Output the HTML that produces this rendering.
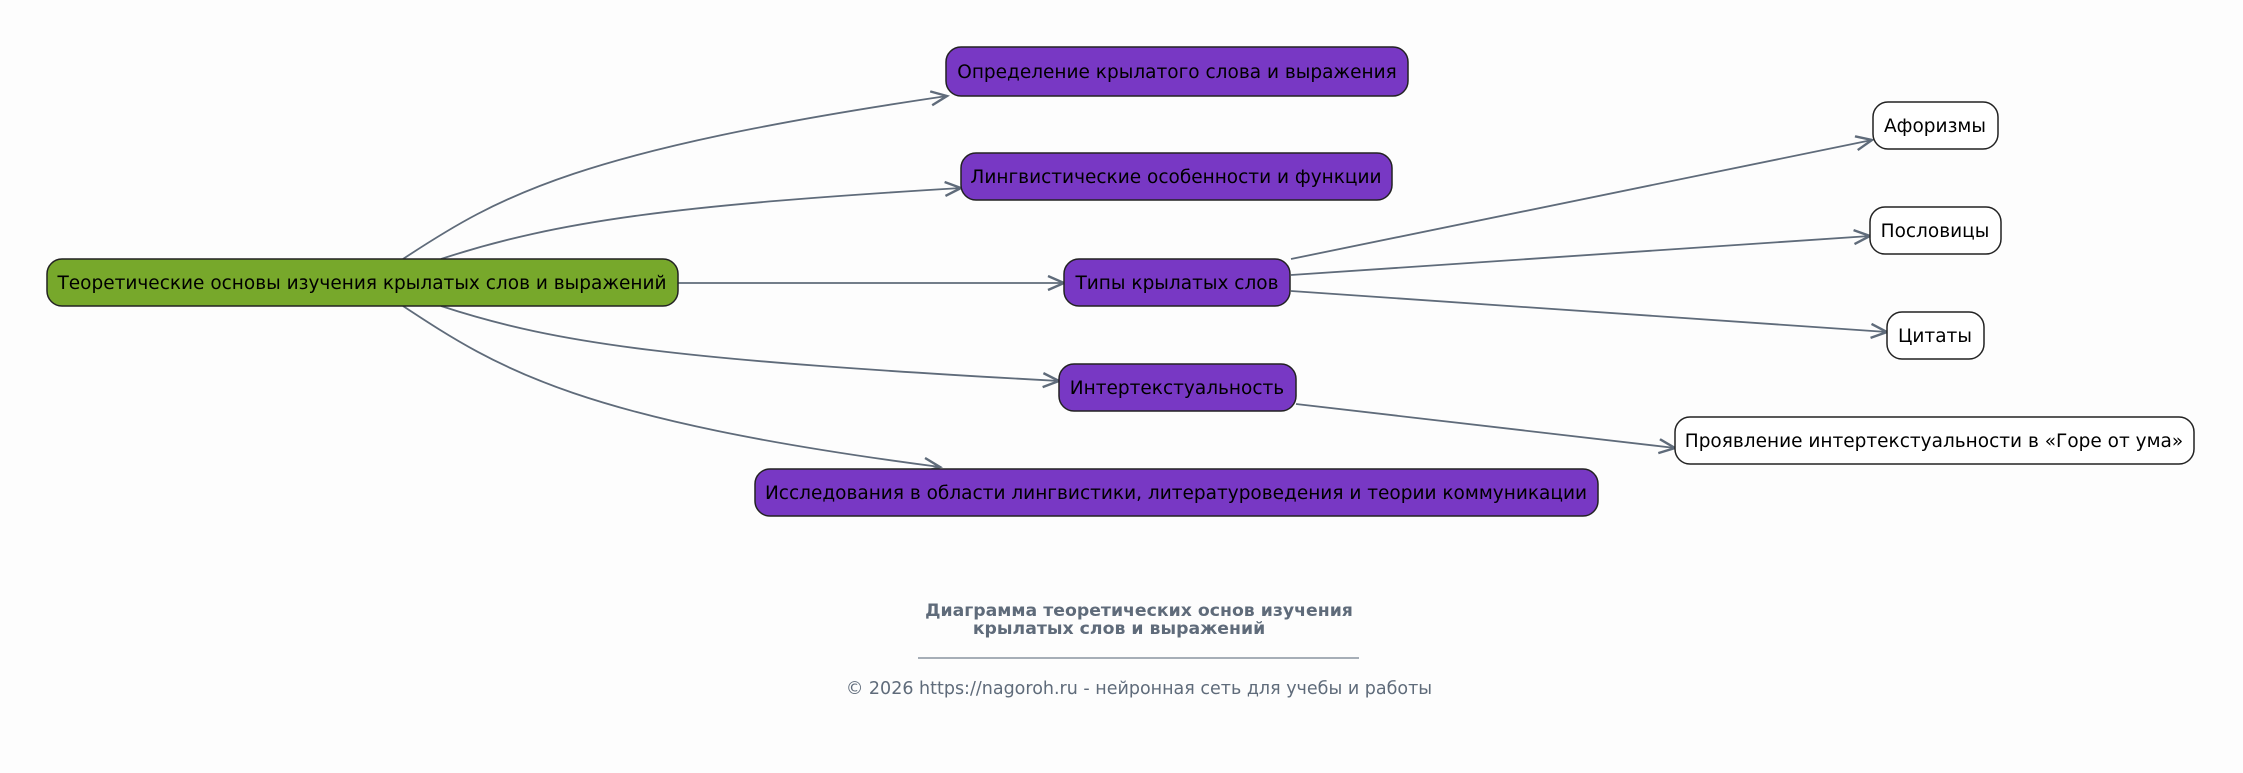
<!DOCTYPE html>
<html><head><meta charset="utf-8"><style>
html,body{margin:0;padding:0;background:#fdfdfd;}
svg{display:block;}
text{font-family:"DejaVu Sans","Liberation Sans",sans-serif;}
</style></head><body>
<svg width="2243" height="773" viewBox="0 0 2243 773" xmlns="http://www.w3.org/2000/svg">
<defs>
<marker id="a" markerWidth="20" markerHeight="20" refX="17" refY="8" orient="auto" markerUnits="userSpaceOnUse">
<path d="M1,1 L17,8 L1,15" fill="none" stroke="#5f6b7a" stroke-width="2.4"/>
</marker>
</defs>
<g fill="none" stroke="#5f6b7a" stroke-width="1.8" marker-end="url(#a)">
<path d="M403,259 C500,195 580,150 947,96"/>
<path d="M441,259 C560,220 680,205 961,188"/>
<path d="M678,283 L1064,283"/>
<path d="M441,306 C560,345 680,360 1059,381"/>
<path d="M403,306 C500,370 580,420 940,467"/>
<path d="M1291,259 L1872,140"/>
<path d="M1291,275 L1870,236"/>
<path d="M1291,291 L1887,332"/>
<path d="M1296,404 L1675,448"/>
</g>
<g stroke="#222" stroke-width="1.5">
<rect x="47" y="259" width="631" height="47" rx="15" fill="#77a82b"/>
<rect x="946" y="47" width="462" height="49" rx="15" fill="#7838c4"/>
<rect x="961" y="153" width="431" height="47" rx="15" fill="#7838c4"/>
<rect x="1064" y="259" width="226" height="47" rx="15" fill="#7838c4"/>
<rect x="1059" y="364" width="237" height="47" rx="15" fill="#7838c4"/>
<rect x="755" y="469" width="843" height="47" rx="15" fill="#7838c4"/>
<rect x="1873" y="102" width="125" height="47" rx="15" fill="#fff"/>
<rect x="1870" y="207" width="131" height="47" rx="15" fill="#fff"/>
<rect x="1887" y="312" width="97" height="47" rx="15" fill="#fff"/>
<rect x="1675" y="417" width="519" height="47" rx="15" fill="#fff"/>
</g>
<g font-size="18.5" fill="#000" text-anchor="middle">
<text x="362" y="289">Теоретические основы изучения крылатых слов и выражений</text>
<text x="1177" y="78">Определение крылатого слова и выражения</text>
<text x="1176" y="183">Лингвистические особенности и функции</text>
<text x="1177" y="289">Типы крылатых слов</text>
<text x="1177" y="394">Интертекстуальность</text>
<text x="1176" y="499">Исследования в области лингвистики, литературоведения и теории коммуникации</text>
<text x="1935" y="132">Афоризмы</text>
<text x="1935" y="237">Пословицы</text>
<text x="1935" y="342">Цитаты</text>
<text x="1934" y="447">Проявление интертекстуальности в «Горе от ума»</text>
</g>
<g fill="#5f6b7a" text-anchor="middle">
<text x="1139" y="616" font-size="17.3" font-weight="bold">Диаграмма теоретических основ изучения</text>
<text x="1119" y="634" font-size="17.3" font-weight="bold">крылатых слов и выражений</text>
<text x="1139" y="694" font-size="17.5">© 2026 https://nagoroh.ru - нейронная сеть для учебы и работы</text>
</g>
<line x1="918" y1="658" x2="1359" y2="658" stroke="#8a94a0" stroke-width="1.5"/>
</svg>
</body></html>
